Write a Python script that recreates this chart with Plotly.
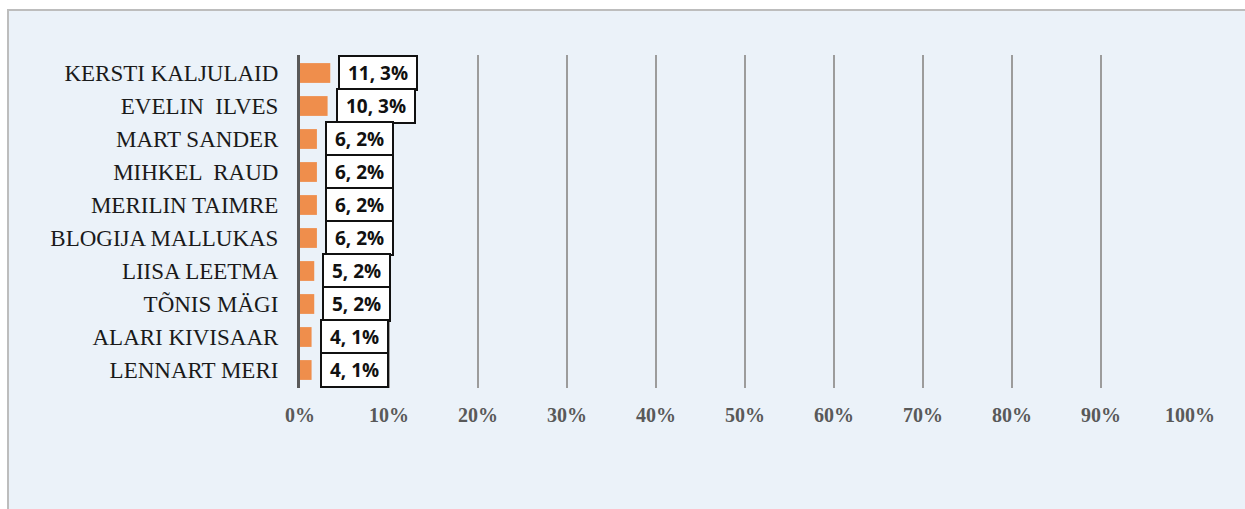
import plotly.graph_objects as go

# Mentions per person (count) and share of all mentions (%)
names = [
    "KERSTI KALJULAID", "EVELIN  ILVES", "MART SANDER", "MIHKEL  RAUD",
    "MERILIN TAIMRE", "BLOGIJA MALLUKAS", "LIISA LEETMA", "TÕNIS MÄGI",
    "ALARI KIVISAAR", "LENNART MERI",
]
counts = [11, 10, 6, 6, 6, 6, 5, 5, 4, 4]
shares = [3.4, 3.1, 1.9, 1.9, 1.9, 1.9, 1.6, 1.6, 1.3, 1.3]
x_ticks = [0, 10, 20, 30, 40, 50, 60, 70, 80, 90, 100]

W, H = 1245, 509
L, R, T, B = 300, 55, 55, 121
pw, ph = W - L - R, H - T - B


def px_to_paper_x(px):
    return (px - L) / pw


def px_to_paper_y(py):
    return (H - B - py) / ph


fig = go.Figure()
fig.add_trace(go.Bar(
    x=shares, y=names, orientation="h",
    marker=dict(color="#EF8E4C", line=dict(width=0)),
    width=0.6, hoverinfo="skip",
))

annotations = []
for n, c, s in zip(names, counts, shares):
    annotations.append(dict(
        x=s, y=n, xref="x", yref="y", xanchor="left", yanchor="middle",
        xshift=8, showarrow=False,
        text=f" {c}, {round(s)}% ",
        font=dict(family="Open Sans", size=19, color="#111111", weight="bold"),
        bgcolor="white", bordercolor="#111111", borderwidth=2, borderpad=3,
    ))

fig.update_layout(
    width=W, height=H,
    margin=dict(l=L, r=R, t=T, b=B),
    paper_bgcolor="white",
    plot_bgcolor="rgba(0,0,0,0)",
    showlegend=False,
    annotations=annotations,
    shapes=[dict(
        type="rect", xref="paper", yref="paper", layer="below",
        x0=px_to_paper_x(8), x1=px_to_paper_x(W + 20),
        y0=px_to_paper_y(H + 20), y1=px_to_paper_y(10),
        fillcolor="#EBF2F9", line=dict(color="#BDBDBD", width=2),
    )],
    xaxis=dict(
        range=[0, 100], tickvals=x_ticks, ticktext=[f"{v}%" for v in x_ticks],
        showgrid=True, gridcolor="#9C9C9C", gridwidth=2,
        zeroline=False, showline=False, ticks="",
        ticklabelstandoff=13,
        tickfont=dict(family="Liberation Serif", size=20, color="#595959",
                      weight="bold"),
        fixedrange=True,
    ),
    yaxis=dict(
        autorange="reversed", showgrid=False, zeroline=False,
        showline=True, linecolor="#595959", linewidth=3,
        ticks="", ticklabelstandoff=14,
        tickfont=dict(family="Liberation Serif", size=23, color="#1A1A1A"),
        fixedrange=True,
    ),
    bargap=0.4,
)

fig.write_html("out.html")
